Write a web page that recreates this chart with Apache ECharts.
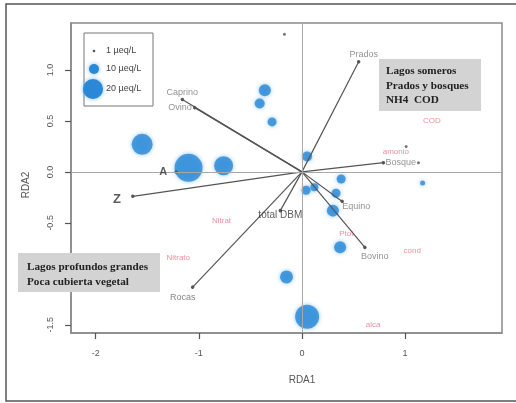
<!DOCTYPE html>
<html>
<head>
<meta charset="utf-8">
<script src="https://cdn.jsdelivr.net/npm/echarts@6/dist/echarts.min.js"></script>
<style>
  html, body { margin: 0; padding: 0; background: #fff; }
  #chart { width: 516px; height: 403px; }
</style>
</head>
<body>
<div id="chart"></div>
<script>
// Site scores (RDA1, RDA2) and concentration (µeq/L) shown as bubble size
const siteX    = [-1.55, -1.10, -0.76, -0.36, -0.41, -0.29, 0.05, 0.38, 0.12, 0.04, 0.33, 0.30, 0.37, -0.15, 0.05, 1.17, -0.17, 1.01, 1.13];
const siteY    = [0.27, 0.04, 0.06, 0.80, 0.67, 0.49, 0.15, -0.07, -0.15, -0.18, -0.21, -0.38, -0.74, -1.03, -1.42, -0.11, 1.35, 0.25, 0.09];
const siteConc = [21, 28, 19, 12, 10, 9, 10, 9, 8, 9, 9, 12, 12, 13, 24, 5, 1, 1, 1];

// Explanatory variable vectors (biplot arrows)
const vectorNames = ['Caprino', 'Ovino', 'Prados', 'Bosque', 'A', 'Z', 'Rocas', 'total DBM', 'Equino', 'Bovino'];
const vectorX     = [-1.16, -1.04, 0.55, 0.79, -1.22, -1.64, -1.06, -0.21, 0.39, 0.61];
const vectorY     = [0.71, 0.63, 1.08, 0.09, 0.00, -0.24, -1.13, -0.38, -0.29, -0.74];

// Response variable scores
const respNames = ['COD', 'amonio', 'Nitrat', 'Nitrato', 'Ptot', 'cond', 'alca'];
const respX     = [1.26, 0.91, -0.78, -1.20, 0.43, 1.07, 0.69];
const respY     = [0.50, 0.20, -0.48, -0.84, -0.61, -0.77, -1.50];

// Axis ticks
const xTicks = [-2, -1, 0, 1];
const yTicks = [-1.5, -1.0, -0.5, 0.0, 0.5, 1.0];

// Bubble legend
const legendValues = [1, 10, 20];
const legendLabels = ['1 µeq/L', '10 µeq/L', '20 µeq/L'];

// Annotation boxes
const noteTopRight = ['Lagos someros', 'Prados y bosques', 'NH4  COD'];
const noteLeft = ['Lagos profundos grandes', 'Poca cubierta vegetal'];

const BLUE = '#2b88d6';
const FRAME = '#8a8a8a';
const SANS = 'Liberation Sans, Arial, sans-serif';
const SERIF = 'Liberation Serif, Times New Roman, serif';

// Label placement for each vector tip
const vecLabel = {
  'Caprino':   { position: 'top', distance: 2, color: '#777', fontSize: 9 },
  'Ovino':     { position: 'left', distance: 3, color: '#777', fontSize: 9 },
  'Prados':    { position: 'top', distance: 3, offset: [5, 0], color: '#777', fontSize: 9 },
  'Bosque':    { position: 'right', distance: 2, color: '#777', fontSize: 9 },
  'A':         { position: 'left', distance: 9, color: '#333', fontSize: 11, fontWeight: 'bold' },
  'Z':         { position: 'left', distance: 12, offset: [0, 3], color: '#333', fontSize: 13, fontWeight: 'bold' },
  'Rocas':     { position: 'bottom', distance: 6, offset: [-10, 0], color: '#666', fontSize: 9 },
  'total DBM': { position: 'inside', offset: [0, 5], color: '#333', fontSize: 10 },
  'Equino':    { position: 'right', distance: 0, offset: [0, 5], color: '#777', fontSize: 9 },
  'Bovino':    { position: 'bottom', distance: 5, offset: [10, 0], color: '#777', fontSize: 9 }
};

const chart = echarts.init(document.getElementById('chart'), null, { renderer: 'canvas' });

const siteData = siteX.map((x, i) => {
  const v = siteConc[i];
  const tiny = v <= 1;
  return {
    value: [x, siteY[i], v],
    symbolSize: tiny ? 3 : v,
    itemStyle: tiny
      ? { color: '#555', shadowBlur: 0 }
      : { color: BLUE, shadowBlur: 4, shadowColor: 'rgba(70,160,235,0.75)' }
  };
});

const vectorLines = vectorNames.map((n, i) => ({ coords: [[0, 0], [vectorX[i], vectorY[i]]] }));
const vectorTips = vectorNames.map((n, i) => ({
  name: n,
  value: [vectorX[i], vectorY[i]],
  label: Object.assign({ show: true, formatter: '{b}', fontFamily: SANS }, vecLabel[n])
}));

const respData = respNames.map((n, i) => ({ name: n, value: [respX[i], respY[i]] }));

// Legend graphics
const legendRows = [51, 69, 89];
const legendSymbolX = [94, 94, 93];
const legendGraphics = [
  { type: 'rect', shape: { x: 84, y: 33, width: 69, height: 73 },
    style: { fill: 'rgba(255,255,255,0)', stroke: '#777', lineWidth: 1 }, z: 10 }
];
legendValues.forEach((v, i) => {
  const tiny = v <= 1;
  legendGraphics.push({
    type: 'circle', shape: { cx: legendSymbolX[i], cy: legendRows[i], r: tiny ? 1.3 : v / 2 },
    style: tiny ? { fill: '#555' } : { fill: BLUE, shadowBlur: 4, shadowColor: 'rgba(70,160,235,0.75)' }, z: 10
  });
  legendGraphics.push({
    type: 'text', x: 106, y: legendRows[i],
    style: { text: legendLabels[i], fill: '#444', font: '9px ' + SANS, textVerticalAlign: 'middle' }, z: 10
  });
});

function noteBox(x, y, w, h, lines, tx, ty, lh) {
  return [
    { type: 'rect', shape: { x: x, y: y, width: w, height: h }, style: { fill: '#d3d3d3' }, z: 20 },
    { type: 'text', x: tx, y: ty, z: 21,
      style: { text: lines.join('\n'), fill: '#222', font: 'bold 11.2px ' + SERIF, lineHeight: lh } }
  ];
}

const option = {
  backgroundColor: '#fff',
  animation: false,
  grid: { left: 71, right: 14, top: 23, bottom: 70, show: true, borderColor: FRAME, borderWidth: 1.5 },
  xAxis: {
    type: 'value', min: -2.24, max: 1.94,
    splitLine: { show: false },
    axisLine: { show: true, onZero: false, lineStyle: { color: FRAME, width: 1.5 } },
    axisTick: { show: true, customValues: xTicks, length: 6, lineStyle: { color: '#555', width: 1.2 } },
    axisLabel: { customValues: xTicks, color: '#555', fontSize: 9, fontFamily: SANS, margin: 16 }
  },
  yAxis: {
    type: 'value', min: -1.58, max: 1.46,
    splitLine: { show: false },
    axisLine: { show: true, onZero: false, lineStyle: { color: FRAME, width: 1.5 } },
    axisTick: { show: true, customValues: yTicks, length: 6, lineStyle: { color: '#555', width: 1.2 } },
    axisLabel: { customValues: yTicks, rotate: 90, color: '#555', fontSize: 9, fontFamily: SANS, margin: 16,
      formatter: v => v.toFixed(1) }
  },
  series: [
    {
      // zero reference lines
      type: 'scatter', data: [], silent: true,
      markLine: {
        silent: true, symbol: 'none', label: { show: false },
        lineStyle: { color: '#a8a8a8', width: 1, type: 'solid' },
        data: [{ xAxis: 0 }, { yAxis: 0 }]
      }
    },
    {
      type: 'scatter', data: siteData, z: 3
    },
    {
      type: 'lines', coordinateSystem: 'cartesian2d', data: vectorLines, z: 4,
      symbol: ['none', 'circle'], symbolSize: 3.5,
      lineStyle: { color: '#555', width: 1.2, opacity: 1 }
    },
    {
      type: 'scatter', data: vectorTips, symbolSize: 0, z: 5
    },
    {
      type: 'scatter', data: respData, symbolSize: 0, z: 5,
      label: { show: true, position: 'inside', formatter: '{b}', color: 'rgba(220,70,90,0.75)', fontSize: 8, fontFamily: SANS }
    }
  ],
  graphic: [
    { type: 'rect', shape: { x: 6, y: 4, width: 520, height: 397 }, style: { fill: 'none', stroke: '#555', lineWidth: 1.5 }, z: 30 },
    { type: 'text', x: 302, y: 380, style: { text: 'RDA1', fill: '#555', font: '10px ' + SANS, textAlign: 'center', textVerticalAlign: 'middle' } },
    { type: 'text', x: 26, y: 185, rotation: Math.PI / 2, style: { text: 'RDA2', fill: '#555', font: '10px ' + SANS, textAlign: 'center', textVerticalAlign: 'middle' } }
  ].concat(legendGraphics)
   .concat(noteBox(379, 59, 102, 52, noteTopRight, 386, 64, 14.5))
   .concat(noteBox(18, 253, 142, 39, noteLeft, 27, 260, 15))
};

chart.setOption(option);
</script>
</body>
</html>
